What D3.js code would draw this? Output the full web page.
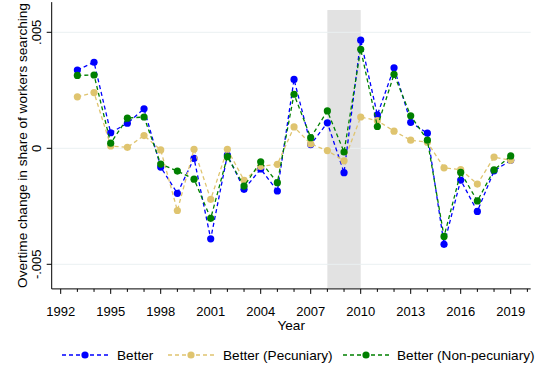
<!DOCTYPE html>
<html>
<head>
<meta charset="utf-8">
<script src="https://cdn.jsdelivr.net/npm/d3@7"></script>
<style>
  html, body { margin: 0; padding: 0; background: #fff; }
  svg { display: block; font-family: "Liberation Sans", Arial, sans-serif; }
</style>
</head>
<body>
<svg id="chart" width="540" height="368"></svg>
<script>
// Years covered by the series
const years = [1993, 1994, 1995, 1996, 1997, 1998, 1999, 2000, 2001, 2002, 2003, 2004, 2005,
  2006, 2007, 2008, 2009, 2010, 2011, 2012, 2013, 2014, 2015, 2016, 2017, 2018, 2019];

// Overtime change in share of workers searching (x 1000)
const better = [3.37, 3.71, 0.67, 1.08, 1.70, -0.81, -1.94, -0.43, -3.90, -0.29, -1.77, -0.89, -1.84,
  2.97, 0.16, 1.10, -1.05, 4.66, 1.44, 3.47, 1.12, 0.65, -4.14, -1.37, -2.72, -0.97, -0.52];
const betterPecuniary = [2.22, 2.40, 0.10, 0.04, 0.55, -0.07, -2.68, -0.04, -2.20, -0.04, -1.38, -0.78, -0.69,
  0.92, 0.19, -0.10, -0.54, 1.35, 1.19, 0.74, 0.35, 0.26, -0.84, -0.92, -1.54, -0.38, -0.52];
const betterNonPecuniary = [3.14, 3.16, 0.22, 1.30, 1.35, -0.68, -0.98, -1.33, -3.02, -0.36, -1.63, -0.58, -1.48,
  2.33, 0.46, 1.61, -0.16, 4.27, 0.94, 3.19, 1.40, 0.35, -3.80, -1.04, -2.27, -0.93, -0.33];

const seriesNames = ["Better", "Better (Pecuniary)", "Better (Non-pecuniary)"];
const seriesColors = ["#0000ff", "#dfc46f", "#008000"];

const xTickValues = [1992, 1995, 1998, 2001, 2004, 2007, 2010, 2013, 2016, 2019];
const yTickValues = [-0.005, 0, 0.005];
const yTickLabels = ["-.005", "0", ".005"];
const recession = [2008, 2010];

const svg = d3.select("#chart");

// Scales
const x = d3.scaleLinear().domain([1992, 2019]).range([60.7, 510.7]);
const y = d3.scaleLinear().domain([-0.005, 0.005]).range([264.3, 32.3]);

const xMin = 1991.46, xMax = 2020.2;
const yMin = -0.00606, yMax = 0.00630;

// Recession shading
svg.append("rect")
  .attr("x", x(recession[0]))
  .attr("width", x(recession[1]) - x(recession[0]))
  .attr("y", y(0.00596))
  .attr("height", y(-0.00602) - y(0.00596))
  .attr("fill", "#e2e2e2");

// Horizontal grid lines
svg.append("g").selectAll("line")
  .data(yTickValues)
  .join("line")
  .attr("x1", x(xMin) + 1).attr("x2", x(xMax))
  .attr("y1", d => y(d)).attr("y2", d => y(d))
  .attr("stroke", "#eaf0f2").attr("stroke-width", 1);

// Y axis
const yAxis = svg.append("g");
yAxis.append("line")
  .attr("x1", x(xMin)).attr("x2", x(xMin))
  .attr("y1", y(yMax)).attr("y2", y(yMin))
  .attr("stroke", "#000").attr("stroke-width", 1);
yAxis.selectAll(".tick")
  .data(yTickValues)
  .join("line")
  .attr("x1", x(xMin) - 5).attr("x2", x(xMin))
  .attr("y1", d => y(d)).attr("y2", d => y(d))
  .attr("stroke", "#000");
yAxis.selectAll("text")
  .data(yTickValues)
  .join("text")
  .attr("transform", d => `translate(${x(xMin) - 11},${y(d)}) rotate(-90)`)
  .attr("text-anchor", "middle")
  .attr("font-size", 13)
  .text((d, i) => yTickLabels[i]);

svg.append("text")
  .attr("transform", `translate(27,${(y(yMax) + y(yMin)) / 2}) rotate(-90)`)
  .attr("text-anchor", "middle")
  .attr("font-size", 13.6)
  .text("Overtime change in share of workers searching");

// X axis
const xAxisY = y(yMin);
const xAxis = svg.append("g");
xAxis.append("line")
  .attr("x1", x(xMin)).attr("x2", x(xMax))
  .attr("y1", xAxisY).attr("y2", xAxisY)
  .attr("stroke", "#000");
xAxis.selectAll(".minor")
  .data(d3.range(1992, 2021))
  .join("line")
  .attr("x1", d => x(d)).attr("x2", d => x(d))
  .attr("y1", xAxisY).attr("y2", d => xTickValues.includes(d) ? xAxisY + 5 : xAxisY + 3)
  .attr("stroke", "#000");
xAxis.selectAll("text")
  .data(xTickValues)
  .join("text")
  .attr("x", d => x(d))
  .attr("y", xAxisY + 27)
  .attr("text-anchor", "middle")
  .attr("font-size", 13)
  .text(d => d);
svg.append("text")
  .attr("x", (x(xMin) + x(xMax)) / 2)
  .attr("y", xAxisY + 41)
  .attr("text-anchor", "middle")
  .attr("font-size", 13.6)
  .text("Year");

// Series
const seriesData = [better, betterPecuniary, betterNonPecuniary];
const line = d3.line().x((d, i) => x(years[i])).y(d => y(d / 1000));

seriesData.forEach((vals, s) => {
  const g = svg.append("g");
  g.append("path")
    .datum(vals)
    .attr("d", line)
    .attr("fill", "none")
    .attr("stroke", seriesColors[s])
    .attr("stroke-width", 1.3)
    .attr("stroke-dasharray", "4,3");
  g.selectAll("circle")
    .data(vals)
    .join("circle")
    .attr("cx", (d, i) => x(years[i]))
    .attr("cy", d => y(d / 1000))
    .attr("r", 3.6)
    .attr("fill", seriesColors[s]);
});

// Legend
const legendY = 355;
const legendItems = [
  { x0: 62, textX: 117 },
  { x0: 168, textX: 223 },
  { x0: 343, textX: 397 }
];
legendItems.forEach((it, s) => {
  const g = svg.append("g");
  g.append("line")
    .attr("x1", it.x0).attr("x2", it.x0 + 46)
    .attr("y1", legendY).attr("y2", legendY)
    .attr("stroke", seriesColors[s]).attr("stroke-width", 1.3)
    .attr("stroke-dasharray", "4,3");
  g.append("circle")
    .attr("cx", it.x0 + 23).attr("cy", legendY).attr("r", 3.6)
    .attr("fill", seriesColors[s]);
  g.append("text")
    .attr("x", it.textX).attr("y", legendY + 4.5)
    .attr("font-size", 13.6)
    .text(seriesNames[s]);
});
</script>
</body>
</html>
